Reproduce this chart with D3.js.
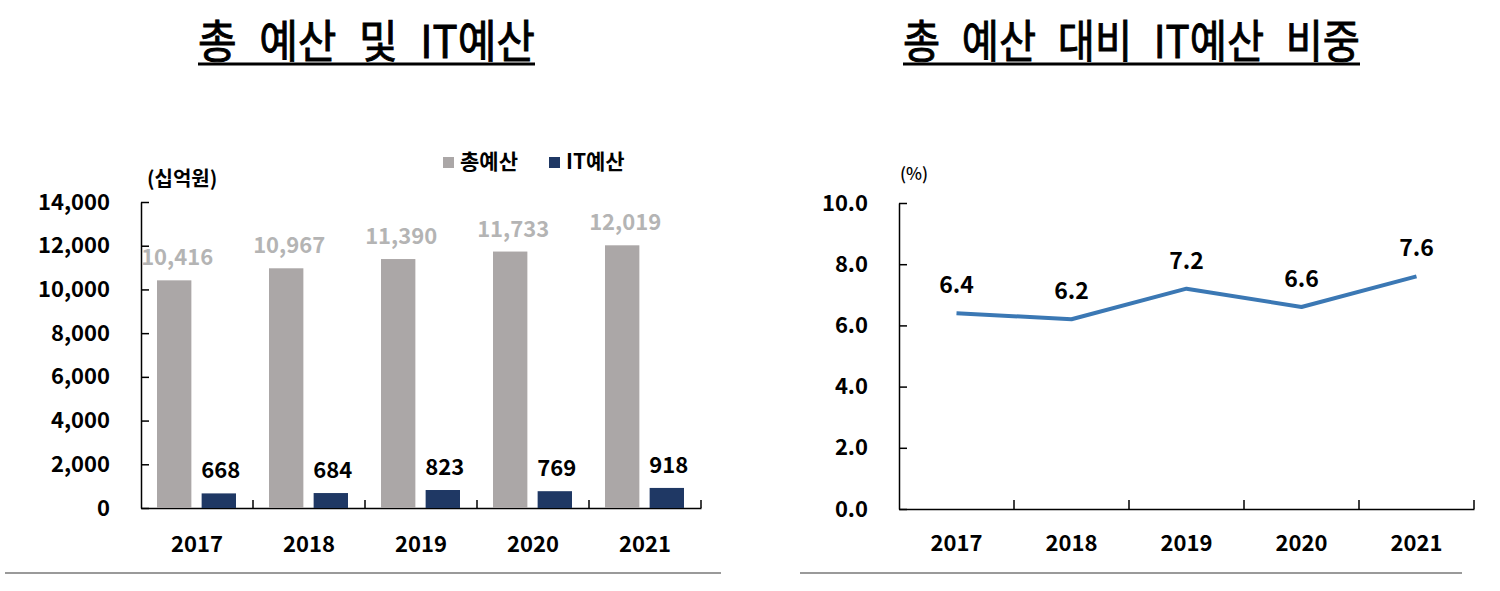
<!DOCTYPE html>
<html>
<head>
<meta charset="utf-8">
<script src="https://cdn.jsdelivr.net/npm/d3@7"></script>
<style>
  body { margin: 0; background: #fff; }
  text { font-family: "Noto Sans CJK KR", "Noto Sans", sans-serif; font-weight: 700; }
</style>
</head>
<body>
<svg width="1500" height="591"></svg>
<script>
// data
const years = ["2017", "2018", "2019", "2020", "2021"];
const totalBudget = [10416, 10967, 11390, 11733, 12019]; // 총예산 (십억원)
const itBudget = [668, 684, 823, 769, 918]; // IT예산 (십억원)
const itShare = [6.4, 6.2, 7.2, 6.6, 7.6]; // %
const leftTicks = [0, 2000, 4000, 6000, 8000, 10000, 12000, 14000];
const rightTicks = [0, 2, 4, 6, 8, 10];

const svg = d3.select("svg");
const grayCol = "#aba7a7",
  navyCol = "#1f3864",
  lineCol = "#3b78b4";

// titles with underline
function title(text, x0, x1) {
  svg
    .append("text")
    .attr("x", x0)
    .attr("y", 58)
    .attr("font-size", 45)
    .style("font-weight", 400)
    .attr("word-spacing", 14)
    .attr("stroke", "#000")
    .attr("stroke-width", 0.9)
    .attr("textLength", x1 - x0)
    .attr("lengthAdjust", "spacingAndGlyphs")
    .text(text);
  svg
    .append("line")
    .attr("x1", x0)
    .attr("x2", x1)
    .attr("y1", 64)
    .attr("y2", 64)
    .attr("stroke", "#000")
    .attr("stroke-width", 3);
}
title("총 예산 및 IT예산", 198, 535);
title("총 예산 대비 IT예산 비중", 903, 1360);

// bottom separator lines
svg.append("line").attr("x1", 5).attr("x2", 721).attr("y1", 573).attr("y2", 573)
  .attr("stroke", "#9a9a9a").attr("stroke-width", 2);
svg.append("line").attr("x1", 800).attr("x2", 1462).attr("y1", 573).attr("y2", 573)
  .attr("stroke", "#9a9a9a").attr("stroke-width", 2);

function styleAxis(a) {
  a.select(".domain").attr("stroke", "#000").attr("stroke-width", 1.5);
  a.selectAll(".tick line").attr("stroke", "#000").attr("stroke-width", 1.5);
  a.selectAll("text")
    .attr("font-size", 22)
    .attr("fill", "#000")
    .attr("font-family", "'Noto Sans CJK KR'")
    .attr("font-weight", 700);
}

// ---------- left: bar chart ----------
const L = { x0: 141, x1: 701, y0: 508, y1: 202 };
const xL = d3.scaleBand().domain(years).range([L.x0, L.x1]);
const yL = d3.scaleLinear().domain([0, 14000]).range([L.y0, L.y1]);
const xSub = d3.scaleBand().domain(["total", "it"]).range([16, 95]).paddingInner(0.23);

const gL = svg.append("g");

const yAxisL = gL
  .append("g")
  .attr("transform", `translate(${L.x0},0)`)
  .call(d3.axisLeft(yL).tickValues(leftTicks).tickSizeInner(-8).tickSizeOuter(0).tickPadding(31).tickFormat(d3.format(",")));
const xAxisL = gL
  .append("g")
  .attr("transform", `translate(0,${L.y0})`)
  .call(d3.axisBottom(xL).tickSize(0).tickPadding(28));
// boundary ticks pointing up
gL.selectAll(".bnd")
  .data(years)
  .enter()
  .append("line")
  .attr("x1", (d) => xL(d) + xL.bandwidth())
  .attr("x2", (d) => xL(d) + xL.bandwidth())
  .attr("y1", L.y0)
  .attr("y2", L.y0 - 8)
  .attr("stroke", "#000")
  .attr("stroke-width", 1.5);
styleAxis(yAxisL);
styleAxis(xAxisL);

gL.selectAll(".barT")
  .data(years)
  .enter()
  .append("rect")
  .attr("x", (d) => xL(d) + xSub("total"))
  .attr("width", xSub.bandwidth())
  .attr("y", (d, i) => yL(totalBudget[i]))
  .attr("height", (d, i) => L.y0 - yL(totalBudget[i]))
  .attr("fill", grayCol);
gL.selectAll(".barI")
  .data(years)
  .enter()
  .append("rect")
  .attr("x", (d) => xL(d) + xSub("it"))
  .attr("width", xSub.bandwidth())
  .attr("y", (d, i) => yL(itBudget[i]))
  .attr("height", (d, i) => L.y0 - yL(itBudget[i]))
  .attr("fill", navyCol);

gL.selectAll(".lblT")
  .data(years)
  .enter()
  .append("text")
  .attr("x", (d) => xL(d) + xSub("total") + xSub.bandwidth() / 2 + 3)
  .attr("y", (d, i) => yL(totalBudget[i]) - 15)
  .attr("text-anchor", "middle")
  .attr("font-size", 22)
  .attr("fill", "#b4b4b4")
  .text((d, i) => d3.format(",")(totalBudget[i]));
gL.selectAll(".lblI")
  .data(years)
  .enter()
  .append("text")
  .attr("x", (d) => xL(d) + xSub("it") + xSub.bandwidth() / 2 + 2)
  .attr("y", (d, i) => yL(itBudget[i]) - 15)
  .attr("text-anchor", "middle")
  .attr("font-size", 22)
  .attr("fill", "#000")
  .text((d, i) => itBudget[i]);

svg.append("text").attr("x", 147).attr("y", 186).attr("font-size", 20).text("(십억원)");

// legend
const legend = [
  { name: "총예산", color: grayCol, x: 443 },
  { name: "IT예산", color: navyCol, x: 549 },
];
const lg = svg.selectAll(".lg").data(legend).enter().append("g").attr("transform", (d) => `translate(${d.x},157)`);
lg.append("rect").attr("width", 11).attr("height", 11).attr("fill", (d) => d.color);
lg.append("text").attr("x", 17).attr("y", 12).attr("font-size", 21).text((d) => d.name);

// ---------- right: line chart ----------
const R = { x0: 899, x1: 1474, y0: 509, y1: 203 };
const xR = d3.scaleBand().domain(years).range([R.x0, R.x1]);
const yR = d3.scaleLinear().domain([0, 10]).range([R.y0, R.y1]);
const gR = svg.append("g");

const yAxisR = gR
  .append("g")
  .attr("transform", `translate(${R.x0},0)`)
  .call(d3.axisLeft(yR).tickValues(rightTicks).tickSizeInner(-8).tickSizeOuter(0).tickPadding(31).tickFormat(d3.format(".1f")));
const xAxisR = gR
  .append("g")
  .attr("transform", `translate(0,${R.y0})`)
  .call(d3.axisBottom(xR).tickSize(0).tickPadding(26));
gR.selectAll(".bnd")
  .data(years)
  .enter()
  .append("line")
  .attr("x1", (d) => xR(d) + xR.bandwidth())
  .attr("x2", (d) => xR(d) + xR.bandwidth())
  .attr("y1", R.y0)
  .attr("y2", R.y0 - 9)
  .attr("stroke", "#000")
  .attr("stroke-width", 1.5);
styleAxis(yAxisR);
styleAxis(xAxisR);

const line = d3
  .line()
  .x((d, i) => xR(years[i]) + xR.bandwidth() / 2)
  .y((d) => yR(d));
gR.append("path")
  .datum(itShare)
  .attr("d", line)
  .attr("fill", "none")
  .attr("stroke", lineCol)
  .attr("stroke-width", 4)
  .attr("stroke-linejoin", "round");

gR.selectAll(".lblR")
  .data(itShare)
  .enter()
  .append("text")
  .attr("x", (d, i) => xR(years[i]) + xR.bandwidth() / 2)
  .attr("y", (d) => yR(d) - 20)
  .attr("text-anchor", "middle")
  .attr("font-size", 23)
  .text((d) => d3.format(".1f")(d));

svg.append("text").attr("x", 900).attr("y", 180).attr("font-size", 17).style("font-weight", 500).text("(%)");
</script>
</body>
</html>
